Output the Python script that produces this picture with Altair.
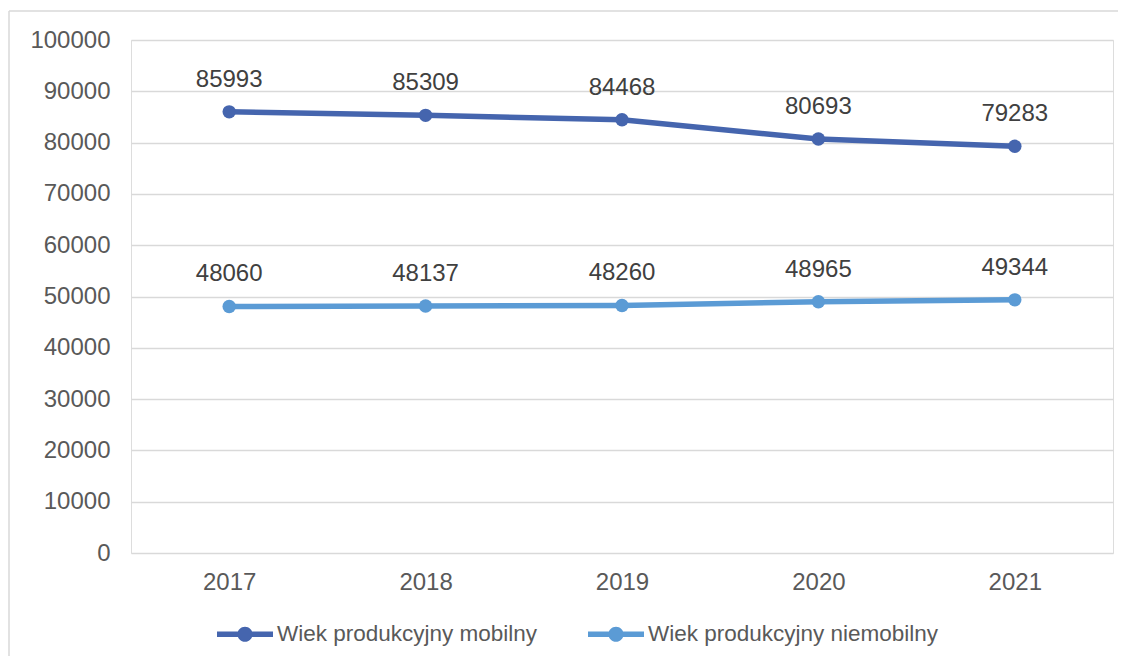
import altair as alt
import pandas as pd

years = ["2017", "2018", "2019", "2020", "2021"]
series_names = ["Wiek produkcyjny mobilny", "Wiek produkcyjny niemobilny"]
mobilny = [85993, 85309, 84468, 80693, 79283]
niemobilny = [48060, 48137, 48260, 48965, 49344]
colors = ["#4565AE", "#5B9BD5"]

rows = []
for y, v in zip(years, mobilny):
    rows.append({"rok": y, "seria": series_names[0], "wartosc": v})
for y, v in zip(years, niemobilny):
    rows.append({"rok": y, "seria": series_names[1], "wartosc": v})
df = pd.DataFrame(rows)

FONT = "Liberation Sans"
TXT = "#595959"

legend_path = ("M-1,-0.1L1,-0.1L1,0.1L-1,0.1Z "
               "M-0.27,0A0.27,0.27 0 1,1 0.27,0A0.27,0.27 0 1,1 -0.27,0Z")

x_enc = alt.X("rok:O", sort=years, title=None,
              scale=alt.Scale(type="point", padding=0.5),
              axis=alt.Axis(labelAngle=0, labelFont=FONT, labelFontSize=24,
                            labelColor=TXT, labelPadding=17, ticks=False,
                            domain=False, grid=False))
y_enc = alt.Y("wartosc:Q", title=None,
              scale=alt.Scale(domain=[0, 100000], nice=False),
              axis=alt.Axis(values=list(range(0, 100001, 10000)), format="d",
                            labelFont=FONT, labelFontSize=24, labelColor=TXT,
                            labelPadding=21, ticks=False, domain=False,
                            gridColor="#d9d9d9", gridWidth=1.5))
color_enc = alt.Color("seria:N", sort=series_names,
                      scale=alt.Scale(domain=series_names, range=colors),
                      legend=alt.Legend(title=None, orient="none",
                                        direction="horizontal",
                                        legendX=86, legendY=566,
                                        symbolType=legend_path,
                                        symbolSize=3136,
                                        symbolStrokeWidth=0,
                                        symbolOpacity=1,
                                        labelFont=FONT, labelFontSize=22.5,
                                        labelColor=TXT, labelOffset=4,
                                        labelLimit=0,
                                        columnPadding=50, padding=0))

base = alt.Chart(df)

line = base.mark_line(strokeWidth=5.5).encode(x=x_enc, y=y_enc, color=color_enc)
points = base.mark_point(filled=True, size=180, opacity=1).encode(
    x=x_enc, y=y_enc, color=color_enc)
labels = base.mark_text(font=FONT, fontSize=24, color="#404040",
                        baseline="bottom", dy=-20).encode(
    x=x_enc, y=y_enc, text=alt.Text("wartosc:Q", format="d"))

border_top = alt.Chart(pd.DataFrame({"a": [0]})).mark_rule(
    color="#d9d9d9", strokeWidth=1.5).encode(
    x=alt.value(-122), x2=alt.value(990), y=alt.value(-29))
border_left = alt.Chart(pd.DataFrame({"a": [0]})).mark_rule(
    color="#d9d9d9", strokeWidth=1.5).encode(
    x=alt.value(-122), y=alt.value(-29), y2=alt.value(630))

chart = alt.layer(border_top, border_left, line, points, labels).properties(
    width=982, height=513,
    autosize=alt.AutoSizeParams(type="none"),
    padding={"left": 123, "top": 32, "right": 5, "bottom": 103},
).configure_view(stroke=None).configure(background="white")

chart.save("out.html", embed_options={"renderer": "svg", "actions": False})
